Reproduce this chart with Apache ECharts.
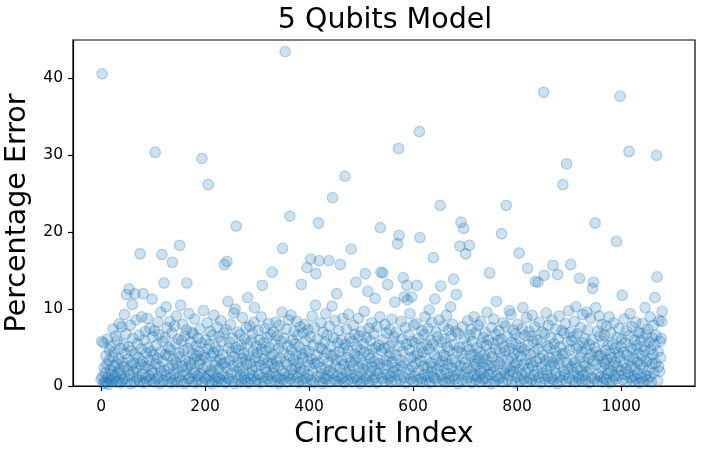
<!DOCTYPE html>
<html><head><meta charset="utf-8">
<script src="https://cdn.jsdelivr.net/npm/echarts@6/dist/echarts.min.js"></script>
<style>html,body{margin:0;padding:0;background:#fff}#c{width:702px;height:451px}</style>
</head><body><div id="c"></div>
<script>
const chartTitle = "5 Qubits Model";
const xName = "Circuit Index";
const yName = "Percentage Error";
const xTicks = [0, 200, 400, 600, 800, 1000];
const yTicks = [0, 10, 20, 30, 40];

const pe0 = [0.9,5.8,40.6,1.2,0.3,5.6,2.4,0.6,1.7,3.9,
0.4,2.8,6.1,1.1,0.2,3.3,4.7,0.8,2.1,5.2,
1.5,0.6,3.8,7.4,2.6,0.9,4.4,1.3,6.5,0.5,
2.9,5.9,1.8,0.7,3.6,8.1,2.2,4.9,0.4,1.6,
7.7,3.1,0.8,5.4,2.5,9.3,1.0,4.2,6.8,11.9,
0.6,3.5,2.0,5.1,12.6,1.4,7.9,0.3,4.6,2.7,
10.6,6.2,1.9,3.0,0.5,12.0,4.1,8.6,2.3,0.9,
5.5,1.2,3.7,6.6,0.7,17.2,2.8,4.8,9.0,1.5,
3.2,12.0,0.4,6.0,2.4,7.1,1.0,4.3,0.6,8.8,
2.6,5.0,1.3,3.4,7.5,0.8,4.5,2.1,11.3,6.4];
const pe1 = [1.7,4.0,0.5,7.2,30.4,2.9,5.3,0.9,3.6,8.3,
1.1,6.7,2.5,0.3,4.4,9.6,1.8,17.1,3.2,5.8,
0.7,13.4,2.0,6.3,4.1,10.3,1.4,7.6,0.6,3.9,
5.0,2.3,8.4,1.0,4.7,0.4,6.9,16.1,2.7,3.5,
1.6,7.8,0.8,5.5,3.0,9.1,2.2,0.5,6.1,4.3,
1.2,18.3,3.8,10.5,0.7,5.9,2.6,8.0,1.9,4.6,
0.3,6.5,3.3,1.5,7.3,13.4,2.4,4.9,0.9,9.4,
3.1,1.0,5.7,2.8,7.0,0.6,4.2,6.8,1.7,3.6,
8.7,2.1,0.4,5.2,3.9,1.3,6.2,0.8,4.5,2.9,
7.4,1.6,3.4,5.6,29.6,0.5,2.3,9.8,4.0,1.1];
const pe2 = [3.7,6.0,0.9,2.5,8.2,4.8,26.2,1.4,5.4,0.6,
7.1,2.0,3.9,0.3,6.6,1.8,4.3,9.2,2.7,0.8,
5.1,3.2,1.2,7.7,0.5,4.6,2.2,6.4,1.0,3.5,
8.5,0.7,5.8,2.9,4.1,1.5,6.9,15.8,3.0,0.4,
2.4,7.3,16.2,1.1,11.0,4.9,0.9,5.7,3.3,8.0,
1.7,4.4,0.6,6.2,2.6,9.5,3.8,0.3,10.0,5.0,
20.8,1.9,3.1,7.0,0.8,4.7,2.3,6.7,1.4,5.3,
0.5,3.6,8.9,2.0,4.2,1.0,6.1,0.7,3.4,7.6,
2.8,5.5,11.5,0.4,4.0,1.6,7.8,3.0,0.9,5.9,
2.1,6.8,1.3,4.5,8.3,10.2,0.6,3.7,2.5,5.2];
const pe3 = [0.8,4.3,7.2,1.5,3.2,6.0,0.4,2.7,9.0,4.8,
13.1,1.1,5.6,3.5,0.6,7.5,2.2,4.6,1.8,6.3,
3.0,0.9,8.1,5.0,1.4,3.8,6.7,0.5,2.9,14.8,
4.1,1.7,7.0,2.4,5.4,0.7,8.3,3.3,1.2,6.5,
2.6,4.9,0.3,7.9,3.6,1.0,5.8,2.0,9.6,17.9,
0.8,4.4,6.2,1.6,43.5,3.1,7.4,0.5,2.8,5.2,
1.3,8.6,3.9,22.1,0.9,9.2,4.7,2.1,6.0,1.5,
3.4,7.1,0.6,5.5,2.5,4.0,8.4,1.1,6.6,3.0,
0.4,5.1,2.3,7.7,1.8,13.2,4.2,0.7,3.7,6.9,
2.0,8.0,1.0,4.6,5.9,0.5,15.4,3.2,7.3,1.4];
const pe4 = [4.5,2.7,6.4,16.5,0.8,3.5,9.1,1.9,5.3,0.4,
7.6,2.9,10.5,14.6,4.0,1.2,6.1,3.1,21.2,16.3,
0.6,5.0,2.4,8.2,1.6,4.8,0.3,7.0,3.6,1.0,
5.7,2.2,9.4,0.9,4.3,6.6,1.4,3.0,16.3,7.8,
2.0,0.5,5.2,3.9,10.4,24.5,1.7,6.3,4.1,0.8,
8.5,2.6,3.4,12.0,0.6,5.6,1.3,7.2,4.5,2.3,
15.8,0.9,6.0,3.3,1.1,8.8,4.9,2.8,0.4,27.3,
5.4,1.8,7.4,3.7,0.7,4.6,9.3,2.1,6.2,1.5,
3.1,17.8,0.5,5.8,2.6,7.9,1.0,4.2,6.7,3.4,
13.5,1.2,5.1,0.8,3.8,8.8,2.4,6.5,0.3,4.7];
const pe5 = [1.6,7.1,3.0,0.7,5.5,2.2,9.7,4.4,14.6,0.9,
6.3,2.8,1.3,12.3,4.1,7.5,0.5,3.6,5.9,1.9,
8.2,2.5,4.8,0.8,6.8,3.2,1.1,11.4,5.0,2.0,
0.4,7.7,3.5,1.7,5.3,2.9,9.0,20.6,14.8,4.6,
1.0,6.0,14.7,2.3,0.6,4.9,8.0,3.3,1.5,6.9,
2.7,13.2,0.9,5.1,3.8,7.3,1.2,4.3,0.5,8.7,
3.1,5.7,1.8,6.4,2.4,10.9,0.7,4.0,7.0,2.1,
18.5,1.4,30.9,19.6,5.2,3.4,0.8,8.4,2.6,6.1,
4.5,14.1,1.1,11.6,3.0,7.6,0.4,5.4,13.1,11.2,
2.2,6.6,1.6,4.7,9.4,0.9,3.7,11.6,5.8,2.5];
const pe6 = [0.6,7.9,3.9,1.3,5.6,2.9,8.1,13.1,4.2,0.8,
6.2,2.0,33.1,19.3,3.3,1.0,5.0,7.2,0.5,4.4,
2.6,6.7,1.5,9.0,3.6,0.7,5.3,2.3,7.5,1.2,
4.8,9.9,0.4,6.0,3.0,1.8,8.3,2.5,5.5,16.7,
1.1,4.1,11.3,0.9,7.0,3.5,2.1,6.4,0.6,4.9,
8.6,2.7,23.5,13.0,1.4,5.7,3.2,0.8,7.8,4.0,
2.2,6.1,0.5,3.8,9.2,1.6,5.1,2.8,7.3,1.0,
4.6,0.7,10.3,6.5,2.4,3.4,8.0,1.3,13.9,5.4,
0.9,3.1,7.1,11.9,2.0,4.5,0.3,6.8,1.7,5.0,
18.2,2.6,21.3,4.3,0.8,7.7,3.5,20.5,1.5,6.2];
const pe7 = [3.0,17.2,0.6,5.2,2.3,8.5,1.1,4.7,18.3,6.6,
1.9,3.9,7.4,0.4,5.8,2.5,4.1,9.0,1.4,3.3,
6.9,0.8,2.8,5.0,1.2,7.9,3.6,0.5,4.5,2.0,
8.4,1.6,5.6,3.1,0.9,6.3,2.4,4.0,7.0,1.0,
3.5,5.3,9.6,0.7,2.7,6.0,1.5,14.7,4.3,2.2,
0.3,7.6,3.8,1.8,5.5,8.7,2.6,0.6,4.8,6.7,
11.0,1.3,3.2,5.9,0.9,7.2,2.9,4.4,1.1,6.1,
19.8,3.7,0.5,8.2,2.1,5.1,1.7,4.6,7.8,23.5,
2.4,0.8,6.4,3.4,1.4,9.8,4.9,2.0,9.3,5.7,
0.6,3.6,7.3,1.9,4.2,2.7,6.8,0.4,5.4,3.0];
const pe8 = [1.2,8.0,4.5,2.2,17.3,6.2,0.7,3.9,5.0,1.5,
7.5,10.2,2.8,0.9,4.7,6.6,1.8,3.4,8.9,0.5,
15.3,5.3,2.3,7.1,1.0,4.1,3.0,6.5,0.8,9.2,
2.6,5.8,1.4,4.4,7.7,13.6,0.6,3.2,6.0,2.0,
13.5,4.8,1.1,8.3,3.6,0.4,5.6,2.5,7.0,1.7,
4.0,38.2,14.4,6.8,0.9,3.3,9.5,2.1,5.2,1.3,
7.9,3.7,0.5,4.9,2.7,6.3,1.0,8.6,3.1,15.7,
0.8,5.5,2.4,4.6,7.4,1.6,3.8,0.3,14.5,6.1,
2.9,9.1,1.2,5.1,3.5,0.7,7.2,4.2,26.2,2.0,
6.9,1.5,4.3,8.1,0.6,28.9,3.0,5.7,2.2,9.8];
const pe9 = [1.0,4.7,7.0,15.8,2.5,5.9,0.8,3.4,6.4,1.7,
8.4,3.1,0.5,10.3,4.9,2.3,6.8,1.3,5.2,0.9,
14.0,3.7,7.6,2.0,4.4,0.6,9.3,5.6,1.4,3.0,
6.2,2.6,0.7,4.8,9.6,1.8,7.3,3.6,0.4,5.4,
2.2,8.8,4.1,1.1,6.0,12.7,3.3,13.5,0.9,5.0,
21.2,10.2,2.8,4.5,0.6,7.1,1.5,3.9,9.1,6.5,
1.2,4.0,2.4,8.0,0.5,5.8,3.2,1.0,6.6,2.9,
4.6,0.8,7.8,3.5,1.6,5.3,2.1,9.0,0.4,4.2,
6.9,1.9,3.7,0.7,5.5,2.7,8.2,1.3,4.9,3.1,
0.9,18.8,6.3,2.5,4.3,1.4,7.5,3.8,37.7,5.1];
const pe10 = [2.0,6.1,11.8,0.8,4.4,3.0,8.7,1.5,5.6,2.3,
7.2,0.5,4.0,1.8,6.5,30.5,3.3,9.4,1.1,5.0,
2.6,7.7,0.7,4.7,3.6,1.3,6.0,2.2,8.3,0.9,
5.3,3.1,1.6,7.0,4.2,0.4,6.8,2.8,5.9,1.0,
3.9,8.1,2.4,0.6,5.2,4.6,10.2,1.4,6.7,3.2,
0.8,7.4,2.0,5.7,3.5,1.2,9.0,4.8,0.5,6.3,
2.9,4.1,7.9,1.7,5.4,11.5,3.0,6.6,30.0,14.2,
0.7,4.5,2.5,8.5,1.9,5.8,3.7,6.2,8.4,9.7];

const errors = [].concat(pe0,pe1,pe2,pe3,pe4,pe5,pe6,pe7,pe8,pe9,pe10);
const points = errors.map((v, i) => [i, v]);

const font = "DejaVu Sans";
const chart = echarts.init(document.getElementById('c'), null, {renderer: 'canvas'});
chart.setOption({
  animation: false,
  backgroundColor: '#fff',
  title: {
    text: chartTitle, left: 380, top: 1, textAlign: 'center',
    textStyle: {fontFamily: font, fontSize: 28.5, fontWeight: 'normal', color: '#000'}
  },
  grid: {left: 73, right: 7, top: 40, bottom: 65, containLabel: false, outerBoundsMode: 'none',
    show: true, borderColor: '#000', borderWidth: 1.2, backgroundColor: 'transparent'},
  xAxis: {
    type: 'value', min: -54, max: 1142,
    name: xName, nameLocation: 'middle', nameGap: 32,
    nameTextStyle: {fontFamily: font, fontSize: 28.5, color: '#000'},
    axisLine: {show: true, onZero: false, lineStyle: {color: '#000', width: 1.2}},
    axisTick: {show: true, customValues: xTicks, length: 5, lineStyle: {color: '#000', width: 1.2}},
    axisLabel: {customValues: xTicks, formatter: v => String(v), fontFamily: font, fontSize: 15.5, color: '#000', margin: 13},
    splitLine: {show: false}
  },
  yAxis: {
    type: 'value', min: 0, max: 45,
    name: yName, nameLocation: 'middle', nameGap: 31, nameRotate: 90,
    nameTextStyle: {fontFamily: font, fontSize: 28.5, color: '#000'},
    axisLine: {show: true, onZero: false, lineStyle: {color: '#000', width: 1.2}},
    axisTick: {show: true, customValues: yTicks, length: 5, lineStyle: {color: '#000', width: 1.2}},
    axisLabel: {customValues: yTicks, formatter: v => String(v), fontFamily: font, fontSize: 15.5, color: '#000', margin: 10},
    splitLine: {show: false}
  },
  series: [{
    type: 'scatter', data: points, symbol: 'circle', symbolSize: 10.5,
    itemStyle: {color: 'rgba(31,119,180,0.22)', borderColor: 'rgba(31,119,180,0.28)', borderWidth: 1.3, opacity: 1}
  }]
});
</script></body></html>
